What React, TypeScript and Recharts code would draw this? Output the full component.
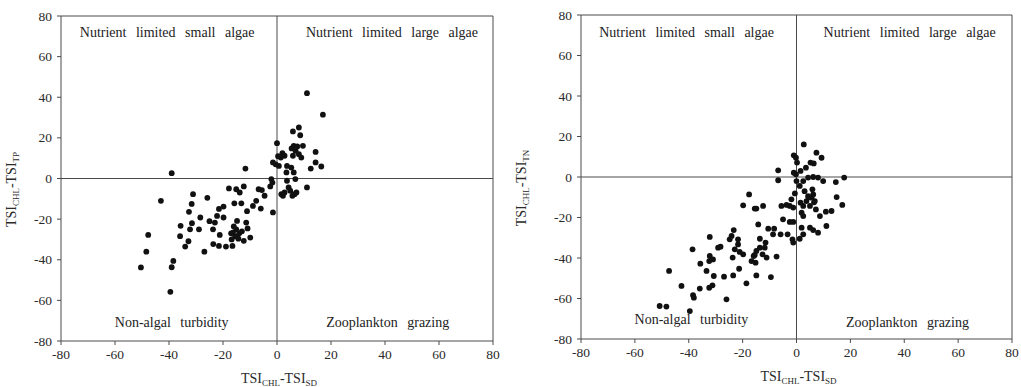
import React from "react";
import {
  ScatterChart,
  Scatter,
  XAxis,
  YAxis,
  ReferenceLine,
  ReferenceDot,
} from "recharts";

// TSI(CHL)-TSI(SD) vs TSI(CHL)-TSI(TP)
const leftPoints: [number, number][] = [
  [-39, 2.6], [-43, -11], [-47.7, -27.8], [-48.4, -36], [-50.4, -43.8],
  [-38.4, -40.6], [-39, -43.7], [-39.5, -55.8], [-35.7, -23.3], [-35.9, -28.4],
  [-34, -33.5], [-32.8, -30.9], [-32.6, -16.4], [-31.6, -12.5], [-31.1, -7.7],
  [-32.2, -25], [-31.5, -22], [-28.9, -25], [-28.4, -19.2], [-26.9, -36],
  [-25.8, -9.5], [-25, -21], [-23.7, -25], [-23.6, -32.3], [-23, -21.7],
  [-22.2, -18.4], [-21.5, -15], [-21.2, -27.8], [-21.5, -33.2], [-19.8, -19.2],
  [-19.8, -13.8], [-18.9, -33.5], [-17.8, -4.9], [-16.5, -33.2], [-16.3, -26.6],
  [-16, -23.6], [-15.8, -12.2], [-15.1, -5.3], [-15.1, -25], [-14.8, -20.9],
  [-14.3, -29.6], [-13.8, -6.9], [-13.2, -12.2], [-12.3, -3.9], [-11.7, 4.9],
  [-12.3, -30.7], [-11.4, -21.7], [-10.9, -24.6], [-11.1, -16.1], [-9.9, -29.1],
  [-8.9, -13.5], [-7.7, -11], [-6.8, -5.3], [-6, -14.8], [-5.6, -5.7],
  [-4.6, -8.5], [-2.1, -0.3], [-2.5, -3.9], [-1.7, -2], [-1.5, -16.7],
  [0, 17.4], [-1.5, 7.9], [-0.5, 7], [0.4, 11], [0.7, 6.2],
  [1.4, 10.3], [2, 12.5], [2.8, 11.2], [3.5, 3], [3.7, 6.2],
  [1.6, -7.7], [2.2, -8.5], [2.8, -6.9], [3.7, -1.1], [4.3, -4.4],
  [4.9, -6], [5.7, -8.5], [6.5, -7.7], [7.2, -6.9], [5.9, 11.2],
  [5.4, 14.8], [6.2, 16.1], [6.9, 13.6], [7.5, 15.8], [8.1, 12],
  [9, 10.3], [9.6, 16.1], [8.1, 25.1], [8.6, 21.3], [5.9, 23.2],
  [5.3, 5.4], [6.2, 3], [6.8, -0.3], [11.1, -4.4], [11.1, 42],
  [17, 31.4], [14.3, 13.1], [12.5, 4.9], [14.3, 7.9], [16.4, 5.9],
  [-17, -27], [-15.5, -28.5], [-14, -27], [-13, -26], [-16.8, -30],
];

// TSI(CHL)-TSI(SD) vs TSI(CHL)-TSI(TN)
const rightPoints: [number, number][] = [
  [2.7, 16.1], [-1, 10.7], [-0.2, 9.5], [0.2, 7.1], [3.5, 4.6],
  [1.5, 3], [-1, 2.1], [-0.2, 1.3], [7.4, 12], [9.3, 9.5],
  [5.2, 7.1], [6.4, 6.7], [-6.8, 3.3], [-6.8, -1.6], [0, -2],
  [1.2, -4.4], [2.5, -2], [4.3, -0.3], [6.2, 0], [8, -0.3],
  [9.9, -2], [14.6, -2.5], [17.7, -0.3], [14.9, -9.9], [17, -13.8],
  [13, -16.8], [10.9, -17.1], [8.7, -19.3], [7.2, -16], [5, -14.3],
  [5.6, -10.2], [6.2, -8.6], [6.8, -11.9], [4.3, -9.4], [5.9, -6.1],
  [3.7, -11.9], [2.5, -14.3], [1.9, -17.6], [2.5, -19.3], [1.5, -12.7],
  [-0.6, -8.1], [-1.9, -11], [-2.5, -14.3], [-1.2, -15.1], [-5.6, -14.3],
  [-3.7, -13.8], [-5, -20.9], [-2.5, -22.2], [-1.2, -22.2], [1.9, -25],
  [5, -25], [6.2, -26.2], [8, -27.5], [11.1, -24.2], [2.5, -28.3],
  [1.2, -30.5], [-1.5, -30.8], [-1.2, -32.4], [-3.3, -28.3], [-5.9, -28.3],
  [-7.4, -39.3], [-8.3, -25.5], [-10.5, -25.5], [-8.7, -28.3], [-9.5, -49.4],
  [-11.5, -32.4], [-12.4, -14.3], [-14.9, -15.6], [-15.5, -15.6], [-14.2, -23.4],
  [-13.6, -30.5], [-11.8, -34.9], [-11.1, -39.8], [-12.6, -38.2], [-13.6, -34.9],
  [-14.9, -36.5], [-15.9, -39], [-16.7, -41.5], [-15.2, -42.3], [-15.5, -38.5],
  [-14.9, -48.6], [-18.6, -52.5], [-19.8, -14], [-17.6, -8.6], [-19.8, -38.2],
  [-21.1, -37], [-21.3, -45.3], [-21.7, -30.8], [-21.7, -33.3], [-23.3, -26.2],
  [-24.1, -29.1], [-23.7, -39.8], [-23.5, -48.6], [-22.9, -35.7], [-24.8, -30.8],
  [-26, -60.4], [-26.9, -49.2], [-29.1, -34.9], [-28.2, -34.4], [-30.7, -48.9],
  [-31, -40.7], [-31.2, -53.5], [-32.4, -41.5], [-32.2, -29.6], [-32.4, -54.7],
  [-32.2, -39], [-33.4, -46.4], [-35.7, -42.8], [-35.9, -55.1], [-38.6, -35.7],
  [-38.4, -58.4], [-38.1, -59.6], [-39.6, -66.2], [-42.7, -53.8], [-47.3, -46.4],
  [-50.8, -63.7], [-48.3, -64], [4.5, -10], [6.5, -12.5], [3, -7],
];

const axisTicks = [-80, -60, -40, -20, 0, 20, 40, 60, 80];

const quadrantNames = [
  "Nutrient limited small algae",
  "Nutrient limited large algae",
  "Non-algal turbidity",
  "Zooplankton grazing",
];

const FONT = "Liberation Serif";
const INK = "#2a2a2a";
const LINE = "#4a4a4a";

function XTick(p: any) {
  return (
    <text x={p.x} y={p.y} dy={12} textAnchor="middle" fontFamily={FONT} fontSize={13.5} fill={INK}>
      {p.payload.value}
    </text>
  );
}

function YTick(p: any) {
  return (
    <text x={p.x - 3} y={p.y} dy={4.5} textAnchor="end" fontFamily={FONT} fontSize={13.5} fill={INK}>
      {p.payload.value}
    </text>
  );
}

function SubLabel({
  x,
  y,
  b,
  rotate,
}: {
  x: number;
  y: number;
  b: string;
  rotate?: boolean;
}) {
  return (
    <text
      x={x}
      y={y}
      textAnchor="middle"
      fontFamily={FONT}
      fontSize={14}
      fill={INK}
      transform={rotate ? `rotate(-90 ${x} ${y})` : undefined}
    >
      TSI
      <tspan fontSize={9} dy={3}>CHL</tspan>
      <tspan dy={-3}>-TSI</tspan>
      <tspan fontSize={9} dy={3}>{b}</tspan>
    </text>
  );
}

function Panel({
  points,
  yName,
  plotLeft,
  width,
  top,
  rightPad,
  xAxisH,
  labelPos,
}: {
  points: [number, number][];
  yName: string;
  plotLeft: number;
  width: number;
  top: number;
  rightPad: number;
  xAxisH: number;
  labelPos: [number, number][];
}) {
  const data = points.map(([x, y]) => ({ x, y }));
  return (
    <ScatterChart
      width={width}
      height={387}
      margin={{ top, right: rightPad, left: 0, bottom: 0 }}
    >
      <XAxis
        type="number"
        dataKey="x"
        domain={[-80, 80]}
        ticks={axisTicks}
        allowDataOverflow
        stroke={LINE}
        tickSize={4}
        tick={XTick}
        height={xAxisH}
        label={{
          content: (p: any) => {
            const vb = p.viewBox;
            return <SubLabel x={vb.x + vb.width / 2 + 2} y={vb.y + 42} b="SD" />;
          },
        }}
      />
      <YAxis
        type="number"
        dataKey="y"
        domain={[-80, 80]}
        ticks={axisTicks}
        allowDataOverflow
        stroke={LINE}
        tickSize={4}
        tick={YTick}
        width={plotLeft}
        label={{
          content: (p: any) => {
            const vb = p.viewBox;
            return (
              <SubLabel x={vb.x + 16} y={vb.y + vb.height / 2 + 11} b={yName} rotate />
            );
          },
        }}
      />
      <ReferenceLine x={80} stroke={LINE} />
      <ReferenceLine y={80} stroke={LINE} />
      <ReferenceLine x={0} stroke={LINE} />
      <ReferenceLine y={0} stroke={LINE} />
      {quadrantNames.map((name, i) => (
        <ReferenceDot
          key={name}
          x={labelPos[i][0]}
          y={labelPos[i][1]}
          r={0}
          stroke="none"
          label={{
            content: (p: any) => (
              <text
                x={p.viewBox.x + p.viewBox.width / 2}
                y={p.viewBox.y + p.viewBox.height / 2}
                dy={5}
                textAnchor="middle"
                fontFamily={FONT}
                fontSize={14}
                fill="#222"
                style={{ wordSpacing: 6 }}
              >
                {name}
              </text>
            ),
          }}
        />
      ))}
      <Scatter
        data={data}
        isAnimationActive={false}
        shape={(p: any) => <circle cx={p.cx} cy={p.cy} r={2.9} fill="#111" />}
      />
    </ScatterChart>
  );
}

export default function App() {
  return (
    <div
      style={{
        position: "absolute",
        left: 0,
        top: 0,
        width: 1021,
        height: 387,
        background: "#fff",
      }}
    >
      <div style={{ position: "absolute", left: 0, top: 0 }}>
        <Panel
          points={leftPoints}
          yName="TP"
          plotLeft={61}
          width={510}
          top={16}
          rightPad={17}
          xAxisH={46}
          labelPos={[
            [-40.7, 72],
            [42.6, 72],
            [-39, -70.4],
            [41, -70.4],
          ]}
        />
      </div>
      <div style={{ position: "absolute", left: 510, top: 0 }}>
        <Panel
          points={rightPoints}
          yName="TN"
          plotLeft={71}
          width={511}
          top={15}
          rightPad={9}
          xAxisH={48}
          labelPos={[
            [-40.8, 71.6],
            [42, 71.6],
            [-39, -70],
            [41.2, -71.6],
          ]}
        />
      </div>
    </div>
  );
}
